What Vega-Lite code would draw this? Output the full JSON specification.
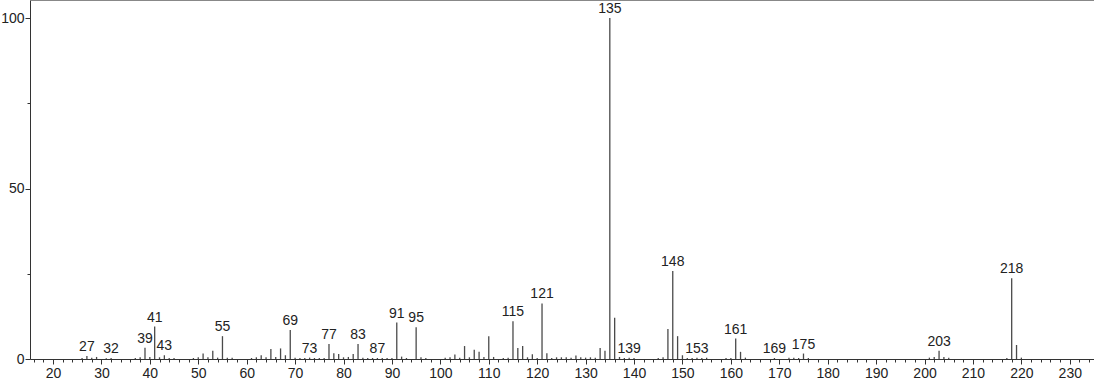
{
  "$schema": "https://vega.github.io/schema/vega-lite/v6.json",
  "width": 1064,
  "height": 359,
  "autosize": {"type": "none"},
  "padding": {"left": 30, "top": 0, "right": 0, "bottom": 25},
  "config": {"view": {"stroke": null}, "font": "Liberation Sans"},
  "data": {"values": [
    {"mz": 26, "intensity": 0.3}, {"mz": 27, "intensity": 0.9, "labeled": true}, {"mz": 28, "intensity": 0.4}, {"mz": 29, "intensity": 0.6},
    {"mz": 31, "intensity": 0.2}, {"mz": 32, "intensity": 0.3, "labeled": true}, {"mz": 37, "intensity": 0.3}, {"mz": 38, "intensity": 0.5},
    {"mz": 39, "intensity": 3.3, "labeled": true}, {"mz": 40, "intensity": 0.6}, {"mz": 41, "intensity": 9.5, "labeled": true}, {"mz": 42, "intensity": 0.5},
    {"mz": 43, "intensity": 1.1, "labeled": true}, {"mz": 44, "intensity": 0.3}, {"mz": 45, "intensity": 0.3}, {"mz": 49, "intensity": 0.3},
    {"mz": 50, "intensity": 0.5}, {"mz": 51, "intensity": 1.6}, {"mz": 52, "intensity": 0.5}, {"mz": 53, "intensity": 2.4},
    {"mz": 54, "intensity": 0.4}, {"mz": 55, "intensity": 6.7, "labeled": true}, {"mz": 56, "intensity": 0.4}, {"mz": 57, "intensity": 0.4},
    {"mz": 61, "intensity": 0.3}, {"mz": 62, "intensity": 0.5}, {"mz": 63, "intensity": 1.1}, {"mz": 64, "intensity": 0.5},
    {"mz": 65, "intensity": 2.9}, {"mz": 66, "intensity": 0.6}, {"mz": 67, "intensity": 3.1}, {"mz": 68, "intensity": 1.1},
    {"mz": 69, "intensity": 8.5, "labeled": true}, {"mz": 70, "intensity": 0.4}, {"mz": 71, "intensity": 0.3}, {"mz": 72, "intensity": 0.3},
    {"mz": 73, "intensity": 0.4, "labeled": true}, {"mz": 74, "intensity": 0.3}, {"mz": 75, "intensity": 0.3}, {"mz": 76, "intensity": 0.3},
    {"mz": 77, "intensity": 4.4, "labeled": true}, {"mz": 78, "intensity": 1.7}, {"mz": 79, "intensity": 1.5}, {"mz": 80, "intensity": 0.5},
    {"mz": 81, "intensity": 0.6}, {"mz": 82, "intensity": 1.5}, {"mz": 83, "intensity": 4.4, "labeled": true}, {"mz": 84, "intensity": 0.4},
    {"mz": 85, "intensity": 0.3}, {"mz": 86, "intensity": 0.3}, {"mz": 87, "intensity": 0.3, "labeled": true}, {"mz": 88, "intensity": 0.3},
    {"mz": 89, "intensity": 0.3}, {"mz": 90, "intensity": 0.3}, {"mz": 91, "intensity": 10.7, "labeled": true}, {"mz": 92, "intensity": 0.7},
    {"mz": 93, "intensity": 0.3}, {"mz": 95, "intensity": 9.3, "labeled": true}, {"mz": 96, "intensity": 0.5}, {"mz": 97, "intensity": 0.3},
    {"mz": 101, "intensity": 0.4}, {"mz": 102, "intensity": 0.5}, {"mz": 103, "intensity": 1.3}, {"mz": 104, "intensity": 0.4},
    {"mz": 105, "intensity": 3.8}, {"mz": 106, "intensity": 0.5}, {"mz": 107, "intensity": 2.7}, {"mz": 108, "intensity": 2.1},
    {"mz": 109, "intensity": 0.6}, {"mz": 110, "intensity": 6.7}, {"mz": 111, "intensity": 0.6}, {"mz": 113, "intensity": 0.3},
    {"mz": 114, "intensity": 0.4}, {"mz": 115, "intensity": 11.1, "labeled": true}, {"mz": 116, "intensity": 3.2}, {"mz": 117, "intensity": 3.8},
    {"mz": 118, "intensity": 0.5}, {"mz": 119, "intensity": 1.4}, {"mz": 120, "intensity": 0.3}, {"mz": 121, "intensity": 16.3, "labeled": true},
    {"mz": 122, "intensity": 1.7}, {"mz": 123, "intensity": 0.3}, {"mz": 124, "intensity": 0.5}, {"mz": 125, "intensity": 0.5},
    {"mz": 126, "intensity": 0.5}, {"mz": 127, "intensity": 0.4}, {"mz": 128, "intensity": 1.0}, {"mz": 129, "intensity": 0.5},
    {"mz": 130, "intensity": 0.4}, {"mz": 131, "intensity": 0.5}, {"mz": 132, "intensity": 0.4}, {"mz": 133, "intensity": 3.2},
    {"mz": 134, "intensity": 2.4}, {"mz": 135, "intensity": 100, "labeled": true}, {"mz": 136, "intensity": 12.1}, {"mz": 137, "intensity": 0.6},
    {"mz": 138, "intensity": 0.3}, {"mz": 139, "intensity": 0.4, "labeled": true}, {"mz": 140, "intensity": 0.3}, {"mz": 145, "intensity": 0.3},
    {"mz": 146, "intensity": 0.5}, {"mz": 147, "intensity": 8.8}, {"mz": 148, "intensity": 25.8, "labeled": true}, {"mz": 149, "intensity": 6.7},
    {"mz": 150, "intensity": 1.1}, {"mz": 151, "intensity": 0.3}, {"mz": 152, "intensity": 0.3}, {"mz": 153, "intensity": 0.4, "labeled": true},
    {"mz": 154, "intensity": 0.3}, {"mz": 155, "intensity": 0.4}, {"mz": 159, "intensity": 0.3}, {"mz": 160, "intensity": 0.3},
    {"mz": 161, "intensity": 6.0, "labeled": true}, {"mz": 162, "intensity": 2.1}, {"mz": 163, "intensity": 0.4}, {"mz": 169, "intensity": 0.3, "labeled": true},
    {"mz": 172, "intensity": 0.4}, {"mz": 173, "intensity": 0.4}, {"mz": 174, "intensity": 0.3}, {"mz": 175, "intensity": 1.6, "labeled": true},
    {"mz": 176, "intensity": 0.3}, {"mz": 201, "intensity": 0.4}, {"mz": 202, "intensity": 0.6}, {"mz": 203, "intensity": 2.4, "labeled": true},
    {"mz": 204, "intensity": 0.6}, {"mz": 205, "intensity": 0.4}, {"mz": 217, "intensity": 0.3}, {"mz": 218, "intensity": 23.7, "labeled": true},
    {"mz": 219, "intensity": 4.1}, {"mz": 220, "intensity": 0.4}
  ]},
  "layer": [
    {
      "mark": {"type": "rule", "color": "#4a4a4a", "strokeWidth": 1.3},
      "encoding": {
        "x": {"field": "mz", "type": "quantitative", "scale": {"domain": [15.25, 235], "nice": false, "zero": false},
          "axis": {"title": null, "grid": false, "values": [20,30,40,50,60,70,80,90,100,110,120,130,140,150,160,170,180,190,200,210,220,230],
            "tickSize": 5, "labelFontSize": 14, "labelColor": "#222", "domainColor": "#333", "tickColor": "#333", "labelPadding": 2, "orient": "bottom"}},
        "y": {"field": "intensity", "type": "quantitative", "scale": {"domain": [0, 105.3], "nice": false},
          "axis": {"title": null, "grid": false, "values": [0, 50, 100], "tickSize": 5, "labelFontSize": 14, "labelColor": "#222",
            "domainColor": "#333", "tickColor": "#333", "labelPadding": 1, "orient": "left"}},
        "y2": {"datum": 0}
      }
    },
    {
      "transform": [{"filter": "datum.labeled === true"}],
      "mark": {"type": "text", "baseline": "bottom", "align": "center", "dy": -2, "fontSize": 14, "color": "#222"},
      "encoding": {
        "x": {"field": "mz", "type": "quantitative"},
        "y": {"field": "intensity", "type": "quantitative"},
        "text": {"field": "mz", "type": "quantitative"}
      }
    },
    {
      "mark": {"type": "point", "opacity": 0},
      "encoding": {
        "x": {"field": "mz", "type": "quantitative",
          "axis": {"title": null, "grid": false, "labels": false, "domain": false, "orient": "bottom", "tickSize": 3, "tickColor": "#333",
            "values": [16,18,22,24,26,28,32,34,36,38,42,44,46,48,52,54,56,58,62,64,66,68,72,74,76,78,82,84,86,88,92,94,96,98,102,104,106,108,112,114,116,118,122,124,126,128,132,134,136,138,142,144,146,148,152,154,156,158,162,164,166,168,172,174,176,178,182,184,186,188,192,194,196,198,202,204,206,208,212,214,216,218,222,224,226,228,232,234]}},
        "y": {"field": "intensity", "type": "quantitative",
          "axis": {"title": null, "grid": false, "labels": false, "domain": false, "orient": "left", "tickSize": 3, "tickColor": "#333", "values": [25, 75]}}
      }
    }
  ],
  "resolve": {"axis": {"x": "independent", "y": "independent"}}
}
